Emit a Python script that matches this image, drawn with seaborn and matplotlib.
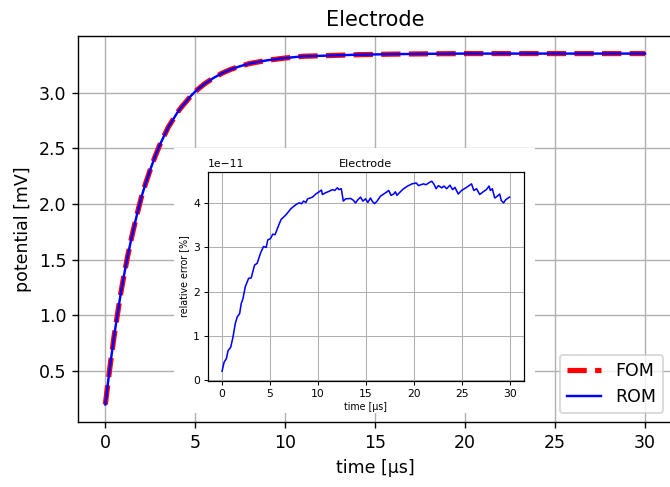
import numpy as np
import pandas as pd
import matplotlib
matplotlib.use("Agg")
import matplotlib.pyplot as plt
from matplotlib.patches import Rectangle
import seaborn as sns

# Electrode potential, full-order vs reduced-order model
time_us = [0.0, 0.125, 0.25, 0.375, 0.5, 0.625, 0.75, 0.875, 1.0, 1.25, 1.5,
           1.75, 2.0, 2.25, 2.5, 2.75, 3.0, 3.25, 3.5, 3.75, 4.0, 4.25, 4.5,
           4.75, 5.0, 5.5, 6.0, 6.5, 7.0, 7.5, 8.0, 9.0, 10.0, 11.0, 12.0,
           14.0, 16.0, 18.0, 20.0, 22.0, 25.0, 28.0, 30.0]
potential_fom = [0.20, 0.37, 0.53, 0.68, 0.83, 0.96, 1.09, 1.215, 1.33, 1.54,
                 1.73, 1.90, 2.06, 2.19, 2.31, 2.42, 2.52, 2.607, 2.69, 2.755,
                 2.82, 2.874, 2.92, 2.969, 3.01, 3.077, 3.13, 3.175, 3.21,
                 3.237, 3.26, 3.29, 3.31, 3.326, 3.33, 3.34, 3.345, 3.348,
                 3.35, 3.35, 3.35, 3.35, 3.35]
potential_rom = list(potential_fom)

# Relative error between the two models, in units of 1e-11 %
err_time_us = [0.0, 0.21, 0.45, 0.62, 0.9, 1.14, 1.38, 1.59, 1.83, 2.0, 2.18,
               2.42, 2.77, 3.04, 3.39, 3.66, 4.01, 4.32, 4.6, 4.77, 5.05, 5.29,
               5.53, 5.81, 6.15, 6.67, 7.19, 7.71, 8.05, 8.3, 8.5, 8.75, 8.92,
               9.19, 9.44, 9.78, 10.13, 10.37, 10.47, 10.82, 11.16, 11.51,
               11.75, 12.03, 12.2, 12.44, 12.65, 12.89, 13.41, 13.69, 13.93,
               14.17, 14.45, 14.69, 14.97, 15.21, 15.49, 15.66, 15.9, 16.18,
               16.52, 16.87, 17.21, 17.39, 17.63, 17.91, 18.08, 18.25, 18.6,
               18.94, 19.36, 19.81, 20.26, 20.5, 20.74, 21.02, 21.29, 21.54,
               21.88, 22.12, 22.33, 22.57, 22.92, 23.16, 23.44, 23.78, 24.06,
               24.3, 24.65, 24.99, 25.51, 26.03, 26.27, 26.55, 26.89, 27.24,
               27.58, 27.86, 28.0, 28.2, 28.45, 28.72, 28.97, 29.14, 29.38,
               29.59, 30.0]
rel_error_e11 = [0.197, 0.40, 0.48, 0.66, 0.74, 0.97, 1.28, 1.43, 1.50, 1.73,
                 1.84, 2.11, 2.30, 2.31, 2.60, 2.64, 2.87, 3.02, 3.00, 3.17,
                 3.20, 3.30, 3.29, 3.45, 3.63, 3.74, 3.88, 3.97, 4.01, 3.99,
                 4.05, 4.02, 4.10, 4.12, 4.14, 4.21, 4.26, 4.30, 4.20, 4.24,
                 4.27, 4.31, 4.29, 4.35, 4.31, 4.33, 4.05, 4.10, 4.11, 4.07,
                 4.01, 4.08, 4.14, 4.05, 4.10, 4.02, 4.12, 4.05, 3.99, 4.05,
                 4.16, 4.21, 4.26, 4.29, 4.18, 4.21, 4.26, 4.18, 4.26, 4.33,
                 4.39, 4.44, 4.46, 4.40, 4.42, 4.44, 4.42, 4.46, 4.50, 4.43,
                 4.33, 4.40, 4.35, 4.39, 4.33, 4.41, 4.31, 4.36, 4.21, 4.29,
                 4.36, 4.44, 4.29, 4.33, 4.20, 4.26, 4.31, 4.39, 4.29, 4.33,
                 4.12, 4.16, 4.21, 4.06, 4.01, 4.08, 4.14]

main_df = pd.DataFrame({"t": time_us, "fom": potential_fom, "rom": potential_rom})
err_df = pd.DataFrame({"t": err_time_us,
                       "err": np.array(rel_error_e11) * 1e-11})

DPI = 125
fig = plt.figure(figsize=(670 / DPI, 487 / DPI), dpi=DPI)

# Main axes
ax = fig.add_axes([0.117, 0.1335, 0.886, 0.7925])
sns.lineplot(data=main_df, x="t", y="fom", ax=ax, color="r", linestyle="--",
             linewidth=3, label="FOM")
sns.lineplot(data=main_df, x="t", y="rom", ax=ax, color="b", linewidth=1.4,
             label="ROM")
ax.set_xticks([0, 5, 10, 15, 20, 25, 30])
ax.set_yticks([0.5, 1.0, 1.5, 2.0, 2.5, 3.0])
ax.grid(True)
ax.set_title("Electrode", fontsize=12)
ax.set_xlabel("time [μs]")
ax.set_ylabel("potential [mV]")
ax.legend(loc="lower right")

# White backing panel for the inset and its labels
fig.patches.append(Rectangle((0.2597, 0.152), 0.539, 0.544,
                             transform=fig.transFigure, facecolor="white",
                             edgecolor="none", zorder=1))

# Inset: relative error
ax_in = fig.add_axes([0.310, 0.2183, 0.472, 0.4291], zorder=2)
sns.lineplot(data=err_df, x="t", y="err", ax=ax_in, color="b", linewidth=0.9)
ax_in.set_xticks([0, 5, 10, 15, 20, 25, 30])
ax_in.grid(True, linewidth=0.6)
ax_in.set_title("Electrode", fontsize=6.5, pad=3)
ax_in.set_xlabel("time [μs]", fontsize=5.5, labelpad=2)
ax_in.set_ylabel("relative error [%]", fontsize=5.5, labelpad=2)
ax_in.tick_params(labelsize=6.2, length=2.5, width=0.6, pad=2)
ax_in.yaxis.get_offset_text().set_fontsize(6.2)
for s in ax_in.spines.values():
    s.set_linewidth(0.7)

fig.savefig("out.png", dpi=DPI)
